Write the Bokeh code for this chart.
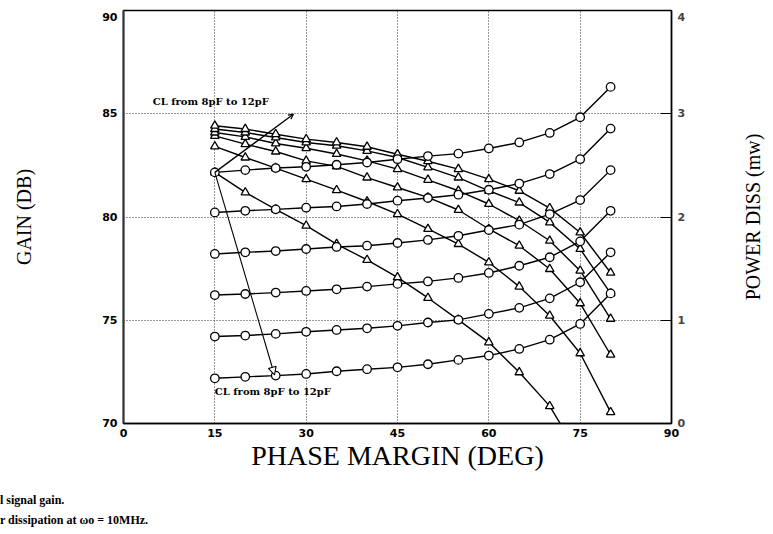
from bokeh.plotting import figure
from bokeh.layouts import row, column
from bokeh.models import (Range1d, LinearAxis, FixedTicker, Label, Arrow, OpenHead,
                          NormalHead, Div)
from bokeh.embed import file_html
from bokeh.resources import INLINE

# ---------------- data ----------------
phase = [15, 20, 25, 30, 35, 40, 45, 50, 55, 60, 65, 70, 75, 80]

# small-signal gain (dB), triangles
gain_1 = [82.16, 81.19, 80.37, 79.58, 78.69, 77.92, 77.08, 76.08, 75.02, 73.93, 72.48, 70.84, 68.40]
gain_2 = [83.42, 82.88, 82.37, 81.83, 81.30, 80.75, 80.14, 79.42, 78.69, 77.80, 76.63, 75.22, 73.40, 70.55]
gain_3 = [83.93, 83.53, 83.17, 82.72, 82.45, 81.91, 81.43, 80.95, 80.34, 79.42, 78.61, 77.48, 75.82, 73.33]
gain_4 = [84.09, 83.88, 83.56, 83.33, 83.05, 82.72, 82.32, 81.80, 81.27, 80.63, 79.82, 78.85, 77.40, 75.07]
gain_5 = [84.26, 84.09, 83.85, 83.61, 83.45, 83.20, 82.88, 82.40, 81.91, 81.27, 80.70, 79.74, 78.45, 76.30]
gain_6 = [84.42, 84.26, 84.01, 83.77, 83.61, 83.40, 83.04, 82.70, 82.32, 81.83, 81.27, 80.43, 79.25, 77.30]
gain_curves = [gain_1, gain_2, gain_3, gain_4, gain_5, gain_6]

# power dissipation (mW), circles
power_1 = [0.438, 0.452, 0.464, 0.480, 0.506, 0.526, 0.544, 0.574, 0.616, 0.658, 0.722, 0.812, 0.964, 1.260]
power_2 = [0.842, 0.852, 0.868, 0.888, 0.906, 0.922, 0.946, 0.978, 1.004, 1.062, 1.120, 1.212, 1.368, 1.658]
power_3 = [1.244, 1.254, 1.268, 1.284, 1.300, 1.326, 1.352, 1.376, 1.410, 1.458, 1.528, 1.610, 1.764, 2.060]
power_4 = [1.642, 1.658, 1.670, 1.690, 1.710, 1.722, 1.748, 1.778, 1.818, 1.874, 1.926, 2.028, 2.164, 2.454]
power_5 = [2.044, 2.060, 2.074, 2.090, 2.102, 2.126, 2.158, 2.184, 2.216, 2.264, 2.324, 2.416, 2.560, 2.856]
power_6 = [2.432, 2.454, 2.474, 2.486, 2.506, 2.528, 2.560, 2.590, 2.614, 2.664, 2.722, 2.814, 2.966, 3.260]
power_curves = [power_1, power_2, power_3, power_4, power_5, power_6]

x_ticks = [0, 15, 30, 45, 60, 75, 90]
gain_ticks = [70, 75, 80, 85, 90]
power_ticks = [0, 1, 2, 3, 4]

x_title = "PHASE MARGIN (DEG)"
y_title = "GAIN (DB)"
y2_title = "POWER DISS (mw)"
note_text = "CL from 8pF to 12pF"
caption_lines = ["l signal gain.", "r dissipation at \u03c9o = 10MHz."]

# annotation anchors (data units)
arrow_up = (15, 82.16, 27.9, 84.98)
arrow_down = (15, 82.16, 24.8, 72.35)

# ---------------- main figure ----------------
H_PLOT, H_CAP = 488, 46
W_MAIN, W_SIDE = 713, 60
p = figure(width=W_MAIN, height=H_PLOT, output_backend="svg", toolbar_location=None,
           x_range=Range1d(0, 90), y_range=Range1d(70, 90),
           min_border_left=123, min_border_right=42, min_border_top=10, min_border_bottom=65,
           background_fill_color="white", border_fill_color="white")
p.extra_y_ranges = {"power": Range1d(0, 4)}

p.outline_line_color = "black"
p.outline_line_width = 1.4

tick_font = "DejaVu Sans"
serif = "Liberation Serif"
for ax in (p.xaxis[0], p.yaxis[0]):
    ax.axis_line_color = "black"
    ax.axis_line_width = 1.5
    ax.major_tick_in = 0
    ax.major_tick_out = 0
    ax.minor_tick_in = 0
    ax.minor_tick_out = 0
    ax.major_label_text_font = tick_font
    ax.major_label_text_font_style = "bold"
    ax.major_label_text_font_size = "11px"
    ax.major_label_text_color = "black"
    ax.axis_label_text_font = serif
    ax.axis_label_text_font_style = "normal"
    ax.axis_label_text_color = "black"

p.yaxis[0].axis_line_width = 2
p.yaxis[0].axis_line_color = "#333333"

p.xaxis[0].ticker = FixedTicker(ticks=x_ticks)
p.xaxis[0].major_label_standoff = 5
p.xaxis[0].axis_label = x_title
p.xaxis[0].axis_label_text_font_size = "28px"
p.xaxis[0].axis_label_standoff = 0

p.yaxis[0].ticker = FixedTicker(ticks=gain_ticks)
p.yaxis[0].major_label_overrides = {90: "\n90"}
p.yaxis[0].major_label_text_line_height = 0.8
p.yaxis[0].major_label_standoff = 6
p.yaxis[0].axis_label = y_title
p.yaxis[0].axis_label_text_font_size = "20px"
p.yaxis[0].axis_label_standoff = 64

yr = LinearAxis(y_range_name="power", ticker=FixedTicker(ticks=power_ticks))
yr.axis_line_color = "black"
yr.axis_line_width = 1.5
yr.major_tick_in = 11
yr.major_tick_out = 0
yr.major_tick_line_width = 1.2
yr.minor_tick_in = 0
yr.minor_tick_out = 0
yr.major_label_text_font = tick_font
yr.major_label_text_font_style = "bold"
yr.major_label_text_font_size = "11px"
yr.major_label_overrides = {4: "\n4"}
yr.major_label_text_line_height = 0.8
yr.major_label_standoff = 6
p.add_layout(yr, "right")

for g in (p.xgrid[0], p.ygrid[0]):
    g.grid_line_color = "#333333"
    g.grid_line_dash = "1 2"
    g.grid_line_width = 1

# curves
for gc in gain_curves:
    xs = phase[:len(gc)]
    p.line(xs, gc, line_color="black", line_width=1.4)
for pc in power_curves:
    p.line(phase, pc, y_range_name="power", line_color="black", line_width=1.4)
for gc in gain_curves:
    xs = phase[:len(gc)]
    p.scatter(xs, gc, marker="triangle", size=8.5, line_color="black", line_width=1.3,
              fill_color="white")
for pc in power_curves:
    p.scatter(phase, pc, y_range_name="power", marker="circle", size=8.5, line_color="black",
              line_width=1.3, fill_color="white")

# arrows
p.add_layout(Arrow(x_start=arrow_up[0], y_start=arrow_up[1], x_end=arrow_up[2], y_end=arrow_up[3],
                   line_color="black", line_width=1.3,
                   end=OpenHead(size=5, line_color="black", line_width=1.2)))
p.add_layout(Arrow(x_start=arrow_down[0], y_start=arrow_down[1], x_end=arrow_down[2], y_end=arrow_down[3],
                   line_color="black", line_width=1.1,
                   end=NormalHead(size=8, line_color="black", line_width=1.1, fill_color="white")))

note_kw = dict(text_font="DejaVu Serif", text_font_style="bold", text_font_size="10px",
               text_color="black", text_baseline="middle", text_align="left")
p.add_layout(Label(x=4.8, y=85.6, text=note_text, **note_kw))
p.add_layout(Label(x=15.0, y=71.55, text=note_text, **note_kw))

# ---------------- side strip carrying the upward-reading right-hand title ----------------
p2 = figure(width=W_SIDE, height=H_PLOT, output_backend="svg", toolbar_location=None,
            x_range=Range1d(0, 1), y_range=Range1d(0, 1), x_axis_location=None,
            min_border_left=50, min_border_right=0, min_border_top=10, min_border_bottom=65,
            background_fill_color="white", border_fill_color="white")
p2.outline_line_color = None
p2.grid.visible = False
ya = p2.yaxis[0]
ya.ticker = FixedTicker(ticks=[])
ya.axis_line_color = None
ya.major_tick_in = 0
ya.major_tick_out = 0
ya.minor_tick_in = 0
ya.minor_tick_out = 0
ya.major_label_standoff = 0
ya.axis_label = y2_title
ya.axis_label_text_font = serif
ya.axis_label_text_font_style = "normal"
ya.axis_label_text_font_size = "20px"
ya.axis_label_text_color = "black"
ya.axis_label_standoff = 0

# ---------------- caption (cut at the page edge in the original) ----------------
cap_html = ("<div style=\"font-family:'Liberation Serif',serif;font-weight:bold;font-size:12px;"
            "line-height:20px;padding-top:2px;white-space:nowrap;color:black;\">"
            + "<br>".join(caption_lines) + "</div>")
cap = Div(text=cap_html, width=W_MAIN + W_SIDE, height=H_CAP, margin=0)

layout = column(row(p, p2), cap)
open("out.html", "w").write(file_html(layout, INLINE))
